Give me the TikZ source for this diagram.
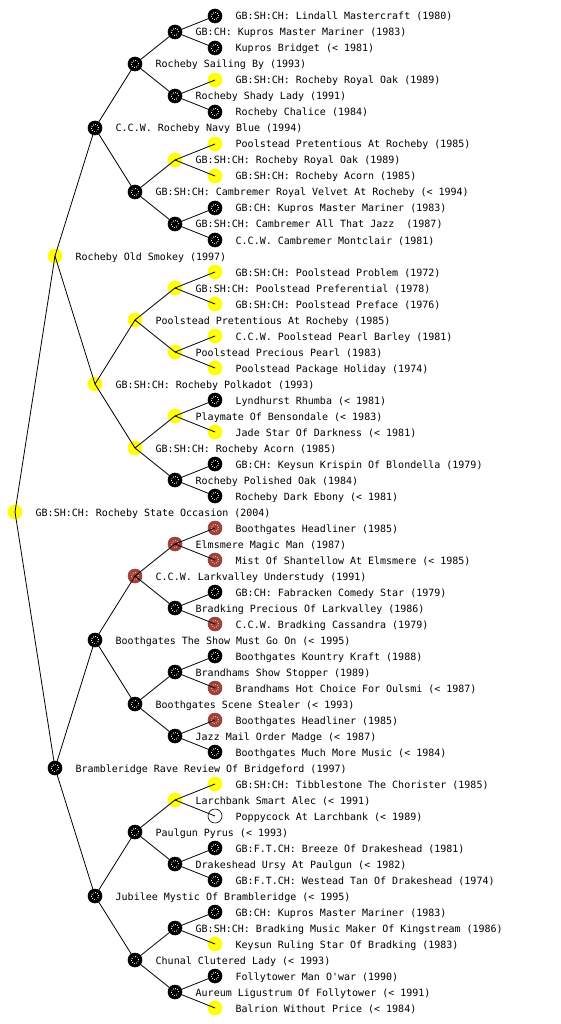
\documentclass[tikz,border=0pt]{standalone}
\usepackage{fontspec}
\setmonofont{DejaVu Sans Mono}
\definecolor{pedred}{RGB}{160,64,56}
\definecolor{pedyellow}{RGB}{255,255,0}
\tikzset{
  pers/.style={circle,inner sep=0pt,minimum size=14pt,line width=0.6pt},
  pblack/.style={pers,fill=black,draw=black,path picture={\draw[white,line width=0.9pt,dash pattern=on 0.9pt off 1.3pt] (path picture bounding box.center) circle (3.6pt);}},
  pyellow/.style={pers,fill=pedyellow,draw=pedyellow,path picture={\draw[pedyellow!45!white,line width=0.9pt,dash pattern=on 0.9pt off 1.3pt] (path picture bounding box.center) circle (3.6pt);}},
  pred/.style={pers,fill=pedred,draw=pedred,path picture={\draw[pedred!35!white,line width=0.9pt,dash pattern=on 0.9pt off 1.3pt] (path picture bounding box.center) circle (3.6pt);}},
  pwhite/.style={pers,fill=white,draw=black},
  lbl/.style={anchor=base west,inner sep=0pt,font=\ttfamily\fontsize{10pt}{12pt}\selectfont},
  edge/.style={black,line width=0.8pt}
}
\newcommand\pnode[5]{%
  \node[#4] (#1) at (#2,#3) {};
  \node[lbl] (#1t) at (#2+20.5,#3+4) {#5};}
\begin{document}
\begin{tikzpicture}[x=1pt,y=-1pt]
\useasboundingbox[fill=white] (0,0) rectangle (560,1024);
% root
\pnode{r}{15}{512}{pyellow}{GB:SH:CH: Rocheby State Occasion (2004)}
% gen 1
\pnode{a1}{55}{256}{pyellow}{Rocheby Old Smokey (1997)}
\pnode{a2}{55}{768}{pblack}{Brambleridge Rave Review Of Bridgeford (1997)}
% gen 2
\pnode{b1}{95}{128}{pblack}{C.C.W. Rocheby Navy Blue (1994)}
\pnode{b2}{95}{384}{pyellow}{GB:SH:CH: Rocheby Polkadot (1993)}
\pnode{b3}{95}{640}{pblack}{Boothgates The Show Must Go On (< 1995)}
\pnode{b4}{95}{896}{pblack}{Jubilee Mystic Of Brambleridge (< 1995)}
% gen 3
\pnode{c1}{135}{64}{pblack}{Rocheby Sailing By (1993)}
\pnode{c2}{135}{192}{pblack}{GB:SH:CH: Cambremer Royal Velvet At Rocheby (< 1994)}
\pnode{c3}{135}{320}{pyellow}{Poolstead Pretentious At Rocheby (1985)}
\pnode{c4}{135}{448}{pyellow}{GB:SH:CH: Rocheby Acorn (1985)}
\pnode{c5}{135}{576}{pred}{C.C.W. Larkvalley Understudy (1991)}
\pnode{c6}{135}{704}{pblack}{Boothgates Scene Stealer (< 1993)}
\pnode{c7}{135}{832}{pblack}{Paulgun Pyrus (< 1993)}
\pnode{c8}{135}{960}{pblack}{Chunal Clutered Lady (< 1993)}
% gen 4
\pnode{d1}{175}{32}{pblack}{GB:CH: Kupros Master Mariner (1983)}
\pnode{d2}{175}{96}{pblack}{Rocheby Shady Lady (1991)}
\pnode{d3}{175}{160}{pyellow}{GB:SH:CH: Rocheby Royal Oak (1989)}
\pnode{d4}{175}{224}{pblack}{GB:SH:CH: Cambremer All That Jazz\ \ (1987)}
\pnode{d5}{175}{288}{pyellow}{GB:SH:CH: Poolstead Preferential (1978)}
\pnode{d6}{175}{352}{pyellow}{Poolstead Precious Pearl (1983)}
\pnode{d7}{175}{416}{pyellow}{Playmate Of Bensondale (< 1983)}
\pnode{d8}{175}{480}{pblack}{Rocheby Polished Oak (1984)}
\pnode{d9}{175}{544}{pred}{Elmsmere Magic Man (1987)}
\pnode{d10}{175}{608}{pblack}{Bradking Precious Of Larkvalley (1986)}
\pnode{d11}{175}{672}{pblack}{Brandhams Show Stopper (1989)}
\pnode{d12}{175}{736}{pblack}{Jazz Mail Order Madge (< 1987)}
\pnode{d13}{175}{800}{pyellow}{Larchbank Smart Alec (< 1991)}
\pnode{d14}{175}{864}{pblack}{Drakeshead Ursy At Paulgun (< 1982)}
\pnode{d15}{175}{928}{pblack}{GB:SH:CH: Bradking Music Maker Of Kingstream (1986)}
\pnode{d16}{175}{992}{pblack}{Aureum Ligustrum Of Follytower (< 1991)}
% gen 5
\pnode{e1}{215}{16}{pblack}{GB:SH:CH: Lindall Mastercraft (1980)}
\pnode{e2}{215}{48}{pblack}{Kupros Bridget (< 1981)}
\pnode{e3}{215}{80}{pyellow}{GB:SH:CH: Rocheby Royal Oak (1989)}
\pnode{e4}{215}{112}{pblack}{Rocheby Chalice (1984)}
\pnode{e5}{215}{144}{pyellow}{Poolstead Pretentious At Rocheby (1985)}
\pnode{e6}{215}{176}{pyellow}{GB:SH:CH: Rocheby Acorn (1985)}
\pnode{e7}{215}{208}{pblack}{GB:CH: Kupros Master Mariner (1983)}
\pnode{e8}{215}{240}{pblack}{C.C.W. Cambremer Montclair (1981)}
\pnode{e9}{215}{272}{pyellow}{GB:SH:CH: Poolstead Problem (1972)}
\pnode{e10}{215}{304}{pyellow}{GB:SH:CH: Poolstead Preface (1976)}
\pnode{e11}{215}{336}{pyellow}{C.C.W. Poolstead Pearl Barley (1981)}
\pnode{e12}{215}{368}{pyellow}{Poolstead Package Holiday (1974)}
\pnode{e13}{215}{400}{pblack}{Lyndhurst Rhumba (< 1981)}
\pnode{e14}{215}{432}{pyellow}{Jade Star Of Darkness (< 1981)}
\pnode{e15}{215}{464}{pblack}{GB:CH: Keysun Krispin Of Blondella (1979)}
\pnode{e16}{215}{496}{pblack}{Rocheby Dark Ebony (< 1981)}
\pnode{e17}{215}{528}{pred}{Boothgates Headliner (1985)}
\pnode{e18}{215}{560}{pred}{Mist Of Shantellow At Elmsmere (< 1985)}
\pnode{e19}{215}{592}{pblack}{GB:CH: Fabracken Comedy Star (1979)}
\pnode{e20}{215}{624}{pred}{C.C.W. Bradking Cassandra (1979)}
\pnode{e21}{215}{656}{pblack}{Boothgates Kountry Kraft (1988)}
\pnode{e22}{215}{688}{pred}{Brandhams Hot Choice For Oulsmi (< 1987)}
\pnode{e23}{215}{720}{pred}{Boothgates Headliner (1985)}
\pnode{e24}{215}{752}{pblack}{Boothgates Much More Music (< 1984)}
\pnode{e25}{215}{784}{pyellow}{GB:SH:CH: Tibblestone The Chorister (1985)}
\pnode{e26}{215}{816}{pwhite}{Poppycock At Larchbank (< 1989)}
\pnode{e27}{215}{848}{pblack}{GB:F.T.CH: Breeze Of Drakeshead (1981)}
\pnode{e28}{215}{880}{pblack}{GB:F.T.CH: Westead Tan Of Drakeshead (1974)}
\pnode{e29}{215}{912}{pblack}{GB:CH: Kupros Master Mariner (1983)}
\pnode{e30}{215}{944}{pyellow}{Keysun Ruling Star Of Bradking (1983)}
\pnode{e31}{215}{976}{pblack}{Follytower Man O'war (1990)}
\pnode{e32}{215}{1008}{pyellow}{Balrion Without Price (< 1984)}
% edges
\draw[edge] (r.center) -- (a1.center);
\draw[edge] (r.center) -- (a2.center);
\foreach \i in {1,2} {\pgfmathtruncatemacro\j{2*\i-1}\pgfmathtruncatemacro\k{2*\i}
  \draw[edge] (a\i.center) -- (b\j.center); \draw[edge] (a\i.center) -- (b\k.center);}
\foreach \i in {1,...,4} {\pgfmathtruncatemacro\j{2*\i-1}\pgfmathtruncatemacro\k{2*\i}
  \draw[edge] (b\i.center) -- (c\j.center); \draw[edge] (b\i.center) -- (c\k.center);}
\foreach \i in {1,...,8} {\pgfmathtruncatemacro\j{2*\i-1}\pgfmathtruncatemacro\k{2*\i}
  \draw[edge] (c\i.center) -- (d\j.center); \draw[edge] (c\i.center) -- (d\k.center);}
\foreach \i in {1,...,16} {\pgfmathtruncatemacro\j{2*\i-1}\pgfmathtruncatemacro\k{2*\i}
  \draw[edge] (d\i.center) -- (e\j.center); \draw[edge] (d\i.center) -- (e\k.center);}
\end{tikzpicture}
\end{document}
